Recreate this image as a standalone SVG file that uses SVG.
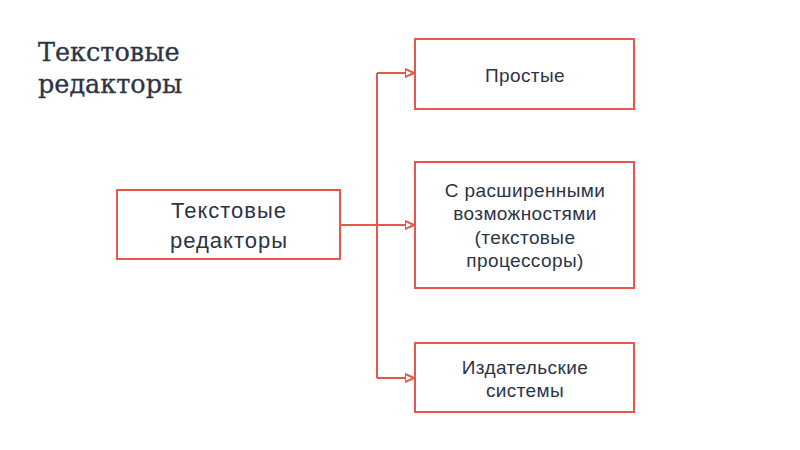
<svg xmlns="http://www.w3.org/2000/svg" width="800" height="450" viewBox="0 0 800 450">
<style>
.box{fill:#ffffff;stroke:#e8564c;stroke-width:2}
.lbl{font-family:"Liberation Sans",Arial,sans-serif;fill:#2b3547;text-anchor:middle}
.sm{font-size:19px;letter-spacing:0.4px}
.lg{font-size:22px;letter-spacing:1px}
.title{font-family:"DejaVu Serif","Liberation Serif",serif;fill:#2b3547;font-size:25.5px;stroke:#2b3547;stroke-width:0.3}
.con{fill:none;stroke:#e8564c;stroke-width:2}
</style>
<defs>
<marker id="arr" viewBox="0 0 10 10" refX="9" refY="5" markerWidth="5" markerHeight="5" orient="auto" markerUnits="strokeWidth">
<path d="M0,1 L9,5 L0,9 Z" fill="#ffffff" stroke="#e8564c" stroke-width="2"/>
</marker>
</defs>
<rect width="800" height="450" fill="#ffffff"/>
<g id="title">
<text class="title" x="38" y="61">Текстовые</text>
<text class="title" x="38" y="93">редакторы</text>
</g>
<g id="connectors">
<path class="con" d="M340,225 H377"/>
<path class="con" d="M377,73 V378"/>
<path class="con" d="M377,73 H414" marker-end="url(#arr)"/>
<path class="con" d="M377,225 H414" marker-end="url(#arr)"/>
<path class="con" d="M377,378 H414" marker-end="url(#arr)"/>
</g>
<g id="root">
<rect class="box" x="117" y="190" width="223" height="69"/>
<text class="lbl lg" x="229" y="218">Текстовые</text>
<text class="lbl lg" x="229" y="248">редакторы</text>
</g>
<g id="simple">
<rect class="box" x="415" y="39" width="219" height="70"/>
<text class="lbl sm" x="525" y="82">Простые</text>
</g>
<g id="advanced">
<rect class="box" x="415" y="162" width="219" height="126"/>
<text class="lbl sm" x="525" y="197">С расширенными</text>
<text class="lbl sm" x="525" y="220">возможностями</text>
<text class="lbl sm" x="525" y="244">(текстовые</text>
<text class="lbl sm" x="525" y="267">процессоры)</text>
</g>
<g id="publishing">
<rect class="box" x="415" y="343" width="219" height="69"/>
<text class="lbl sm" x="525" y="374">Издательские</text>
<text class="lbl sm" x="525" y="397">системы</text>
</g>
</svg>
